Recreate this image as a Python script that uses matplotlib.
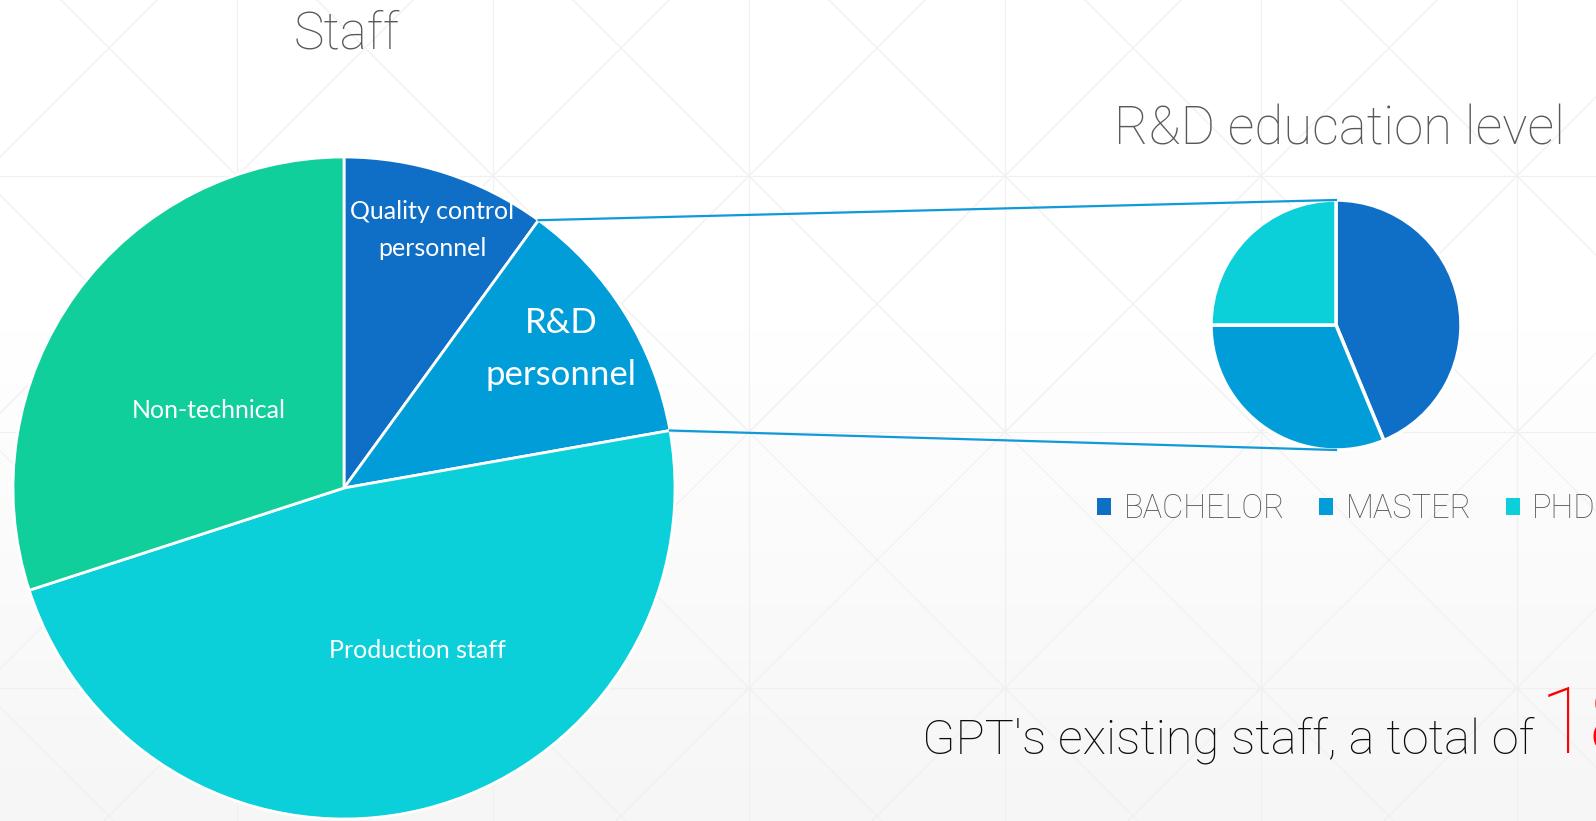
import matplotlib.pyplot as plt
import numpy as np
from matplotlib.patches import Patch

# data
staff_labels = ['Quality control\npersonnel', 'R&D\npersonnel', 'Production staff', 'Non-technical']
staff_counts = [18, 22, 86, 54]
staff_colors = ['#0f6fc6', '#009dd9', '#0bd0d9', '#10cf9b']

edu_labels = ['BACHELOR', 'MASTER', 'PHD']
edu_counts = [7, 5, 4]
edu_colors = ['#0f6fc6', '#009dd9', '#0bd0d9']

plt.rcParams['font.family'] = ['Lato', 'DejaVu Sans']
thin = ['Roboto', 'Lato', 'DejaVu Sans']

W, H = 1596, 821
fig = plt.figure(figsize=(W / 100, H / 100), dpi=100)
ax = fig.add_axes([0, 0, 1, 1])

# background: white fading to light grey at the bottom
rows = np.arange(H)
shade = 1 - 0.035 * np.clip((rows - 330) / 490, 0, 1)
bg = np.repeat(shade[:, None, None], 3, axis=2)
ax.imshow(bg, extent=(0, W, 0, H), aspect='auto', origin='upper', zorder=0)

# faint grid with diagonals
line_kw = dict(color='#f0f0f0', lw=0.9, zorder=0.5)
for gx in np.arange(-19, W + 256, 256):
    ax.plot([gx, gx], [0, H], **line_kw)
for gy in np.arange(-81, H + 256, 256.5):
    ax.plot([0, W], [H - gy, H - gy], **line_kw)
xs = np.array([-400, W + 400])
for c in np.arange(-61 - 256 * 8, 1000, 256):
    ax.plot(xs, H - (xs + c), **line_kw)
for c in np.arange(413 - 256 * 4, 413 + 256 * 8, 256):
    ax.plot(xs, H - (c - xs), **line_kw)

# main pie
main_c = (344, H - 488)
main_r = 331
wedges, _ = ax.pie(staff_counts, colors=staff_colors, startangle=90, counterclock=False,
                   center=main_c, radius=main_r,
                   wedgeprops=dict(edgecolor='white', linewidth=2))

# sub pie
sub_c = (1336, H - 325)
sub_r = 125
ax.pie(edu_counts, colors=edu_colors, startangle=90, counterclock=False,
       center=sub_c, radius=sub_r,
       wedgeprops=dict(edgecolor='white', linewidth=2.5))

ax.set_xlim(0, W)
ax.set_ylim(0, H)
ax.axis('off')

# connector lines from the R&D wedge to the sub pie
rd = wedges[1]
t_top, t_bot = np.deg2rad(rd.theta2), np.deg2rad(rd.theta1)
p_top = (main_c[0] + main_r * np.cos(t_top), main_c[1] + main_r * np.sin(t_top))
p_bot = (main_c[0] + main_r * np.cos(t_bot), main_c[1] + main_r * np.sin(t_bot))
ax.plot([p_top[0], sub_c[0]], [p_top[1], sub_c[1] + sub_r], color='#0f9bd7', lw=1.6, zorder=3)
ax.plot([p_bot[0], sub_c[0]], [p_bot[1], sub_c[1] - sub_r], color='#0f9bd7', lw=1.6, zorder=3)

# slice labels
label_pos = [(432, 230), (561, 349), (417, 651), (209, 410)]
label_size = [18, 25, 18, 18]
for lab, (lx, ly), fs in zip(staff_labels, label_pos, label_size):
    ax.text(lx, H - ly, lab, ha='center', va='center', color='white',
            fontsize=fs, linespacing=1.75, zorder=4)

# titles
ax.text(347, H - 48, 'Staff', ha='center', va='baseline', fontsize=37,
        family=thin, fontweight='light', color='#595959')
ax.text(1565, H - 144, 'R&D education level', ha='right', va='baseline', fontsize=38,
        family=thin, fontweight='light', color='#595959')

# legend for the sub pie
handles = [Patch(facecolor=c) for c in edu_colors]
ax.legend(handles, edu_labels, loc='center left', bbox_to_anchor=(1097 / W, (H - 509) / H),
          ncol=3, frameon=False, handlelength=0.43, handleheight=0.43,
          handletextpad=0.38, columnspacing=1.05, borderpad=0, borderaxespad=0,
          labelcolor='#595959', prop=dict(family=thin, weight='light', size=23.5))

# bottom note with the total in red
note = ax.text(922, H - 753, "GPT's existing staff, a total of", ha='left', va='baseline',
               fontsize=35.2, family=thin, fontweight='light', color='#0d0d0d')
fig.canvas.draw()
bb = note.get_window_extent()
ax.text(bb.x1 + 6, H - 753, str(sum(staff_counts)), ha='left', va='baseline',
        fontsize=66, family=thin, fontweight='light', color='#ff0000')

fig.savefig('out.png', dpi=100)
